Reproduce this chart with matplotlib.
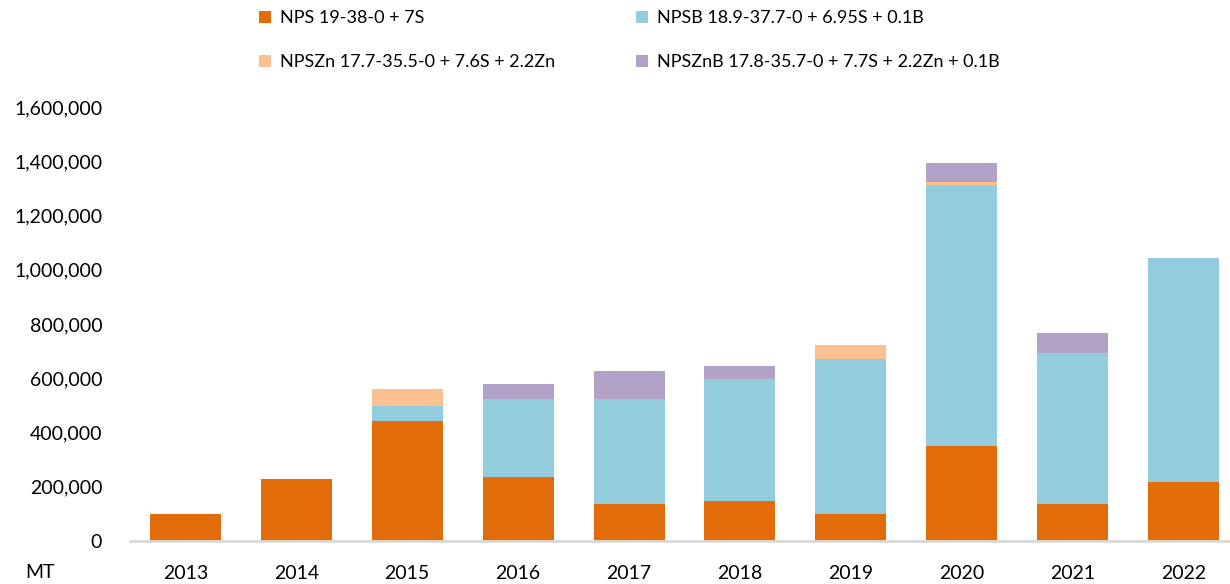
import numpy as np
import matplotlib.pyplot as plt
from matplotlib.ticker import FuncFormatter

plt.rcParams['font.family'] = ['Lato', 'DejaVu Sans']

years = ["2013", "2014", "2015", "2016", "2017", "2018", "2019", "2020", "2021", "2022"]
nps    = [100000, 230000, 443000, 236000, 135000, 149000, 98000, 351000, 136000, 216000]
npsb   = [0, 0, 55000, 288000, 388000, 448000, 573000, 962000, 558000, 826000]
npszn  = [0, 0, 62000, 0, 0, 0, 52000, 12000, 0, 0]
npsznb = [0, 0, 0, 55000, 102000, 50000, 0, 68000, 72000, 0]

labels = ["NPS 19-38-0 + 7S",
          "NPSB 18.9-37.7-0 + 6.95S + 0.1B",
          "NPSZn 17.7-35.5-0 + 7.6S + 2.2Zn",
          "NPSZnB 17.8-35.7-0 + 7.7S + 2.2Zn + 0.1B"]
colors = ["#E36C0A", "#93CDDD", "#FAC090", "#B3A2C7"]

fig = plt.figure(figsize=(12.3, 5.84), dpi=100)
ax = fig.add_axes([130/1230, 43/584, 1109/1230, 434/584])

x = np.arange(len(years))
w = 0.64
series = [nps, npsb, npszn, npsznb]
bottom = np.zeros(len(years))
bars = []
for vals, c, lab in zip(series, colors, labels):
    b = ax.bar(x, vals, w, bottom=bottom, color=c, label=lab, zorder=2)
    bars.append(b)
    bottom += np.array(vals)

ax.set_xlim(-0.5, len(years) - 0.5)
ax.set_ylim(0, 1600000)
ax.set_yticks(np.arange(0, 1600001, 200000))
ax.yaxis.set_major_formatter(FuncFormatter(lambda v, p: f"{int(v):,}"))
ax.set_xticks(x)
ax.set_xticklabels(years)
ax.tick_params(axis='y', length=0, pad=20, labelsize=14, colors='#000000')
ax.tick_params(axis='x', length=0, pad=17, labelsize=14)

for s in ["top", "right", "left"]:
    ax.spines[s].set_visible(False)
ax.spines["bottom"].set_color("#d9d9d9")
ax.spines["bottom"].set_linewidth(2)

fig.text(25/1230, 1 - 573/584, "MT", fontsize=14, va='center', ha='left')

# legend: row 1 NPS / NPSB, row 2 NPSZn / NPSZnB
h = [bars[0], bars[2], bars[1], bars[3]]
l = [labels[0], labels[2], labels[1], labels[3]]
fig.legend(h, l, ncol=2, loc='upper left', bbox_to_anchor=(243/1230, 1.01),
           frameon=False, fontsize=13, handlelength=0.65, handleheight=0.65,
           handletextpad=0.5, labelspacing=1.55, columnspacing=4.5)

plt.savefig("out.png")
